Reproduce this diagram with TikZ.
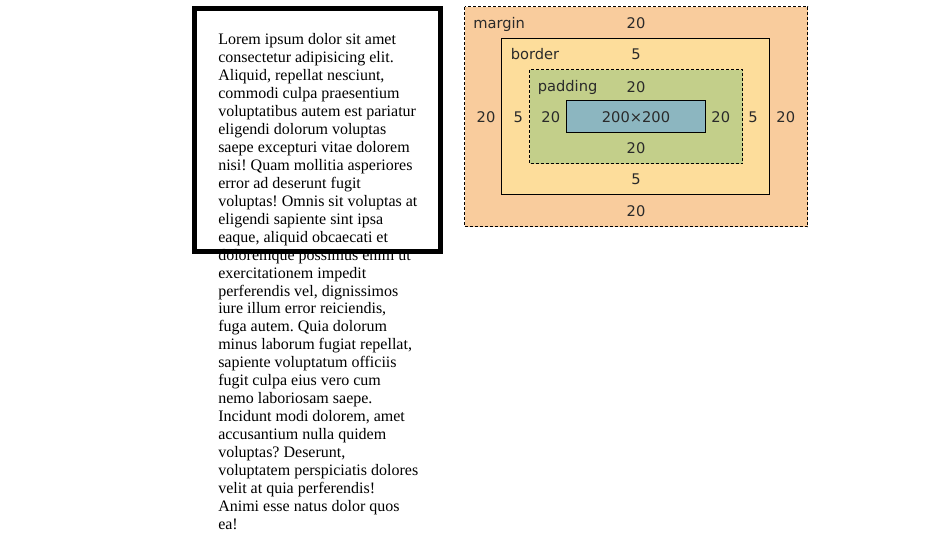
\documentclass[tikz,border=0pt]{standalone}
\usepackage{fontspec}
\setmainfont{Liberation Serif}
\newfontfamily\panelfont{DejaVu Sans}
\usepackage{tikz}
\usetikzlibrary{positioning}
\definecolor{marginfill}{HTML}{F9CC9D}
\definecolor{borderfill}{HTML}{FDDD9B}
\definecolor{paddingfill}{HTML}{C3CF8A}
\definecolor{contentfill}{HTML}{8CB6C0}
\definecolor{labelgray}{HTML}{2A2A2A}
\frenchspacing

\begin{document}
\begin{tikzpicture}[
    x=0.75pt, y=-0.75pt,
    lorem/.style={inner sep=0pt, align=left, anchor=north west, font=\fontsize{12pt}{13.45pt}\selectfont},
    outerbox/.style={draw=black, line width=3.75pt},
    marginbox/.style={draw=black, fill=marginfill, line width=0.75pt, dash pattern=on 2.25pt off 1.5pt},
    borderbox/.style={draw=black, fill=borderfill, line width=0.75pt},
    paddingbox/.style={draw=black, fill=paddingfill, line width=0.75pt, dash pattern=on 2.25pt off 1.5pt},
    contentbox/.style={draw=black, fill=contentfill, line width=0.75pt},
    lbl/.style={inner sep=0pt, text=labelgray, font=\panelfont\fontsize{11pt}{13pt}\selectfont},
    word/.style={lbl, anchor=base west}
]
\useasboundingbox (0,0) rectangle (948,540);

% text that runs out of its box
\node[lorem] (txt) at (218,33.6) {Lorem ipsum dolor sit amet\\
consectetur adipisicing elit.\\
Aliquid, repellat nesciunt,\\
commodi culpa praesentium\\
voluptatibus autem est pariatur\\
eligendi dolorum voluptas\\
saepe excepturi vitae dolorem\\
nisi! Quam mollitia asperiores\\
error ad deserunt fugit\\
voluptas! Omnis sit voluptas at\\
eligendi sapiente sint ipsa\\
eaque, aliquid obcaecati et\\
doloremque possimus enim ut\\
exercitationem impedit\\
perferendis vel, dignissimos\\
iure illum error reiciendis,\\
fuga autem. Quia dolorum\\
minus laborum fugiat repellat,\\
sapiente voluptatum officiis\\
fugit culpa eius vero cum\\
nemo laboriosam saepe.\\
Incidunt modi dolorem, amet\\
accusantium nulla quidem\\
voluptas? Deserunt,\\
voluptatem perspiciatis dolores\\
velit at quia perferendis!\\
Animi esse natus dolor quos\\
ea!};
\draw[outerbox] (194.5,8.5) rectangle (440.5,251.5);

% box model panel
\draw[marginbox] (464.5,6.5) rectangle (807.5,226.5);
\draw[borderbox] (501.5,38) rectangle (769.5,194);
\draw[paddingbox] (529.5,69.5) rectangle (742.5,163.5);
\draw[contentbox] (566.5,100.5) rectangle (705.5,132.5);

\node[word] (mlbl) at (473,28.5) {margin};
\node[word] (blbl) at (510.5,59.5) {border};
\node[word] (plbl) at (537.5,91) {padding};

\node[lbl] (mtop) at (636,23.3) {20};
\node[lbl] (btop) at (636,54.7) {5};
\node[lbl] (ptop) at (636,86.7) {20};
\node[lbl] (size) at (636,117) {200×200};
\node[lbl] (pbot) at (636,148.5) {20};
\node[lbl] (bbot) at (636,179) {5};
\node[lbl] (mbot) at (636,211) {20};

\node[lbl] (mleft) at (486,117) {20};
\node[lbl] (bleft) at (518.3,117) {5};
\node[lbl] (pleft) at (550.8,117) {20};
\node[lbl] (pright) at (720.8,117) {20};
\node[lbl] (bright) at (753,117) {5};
\node[lbl] (mright) at (785.8,117) {20};
\end{tikzpicture}
\end{document}
